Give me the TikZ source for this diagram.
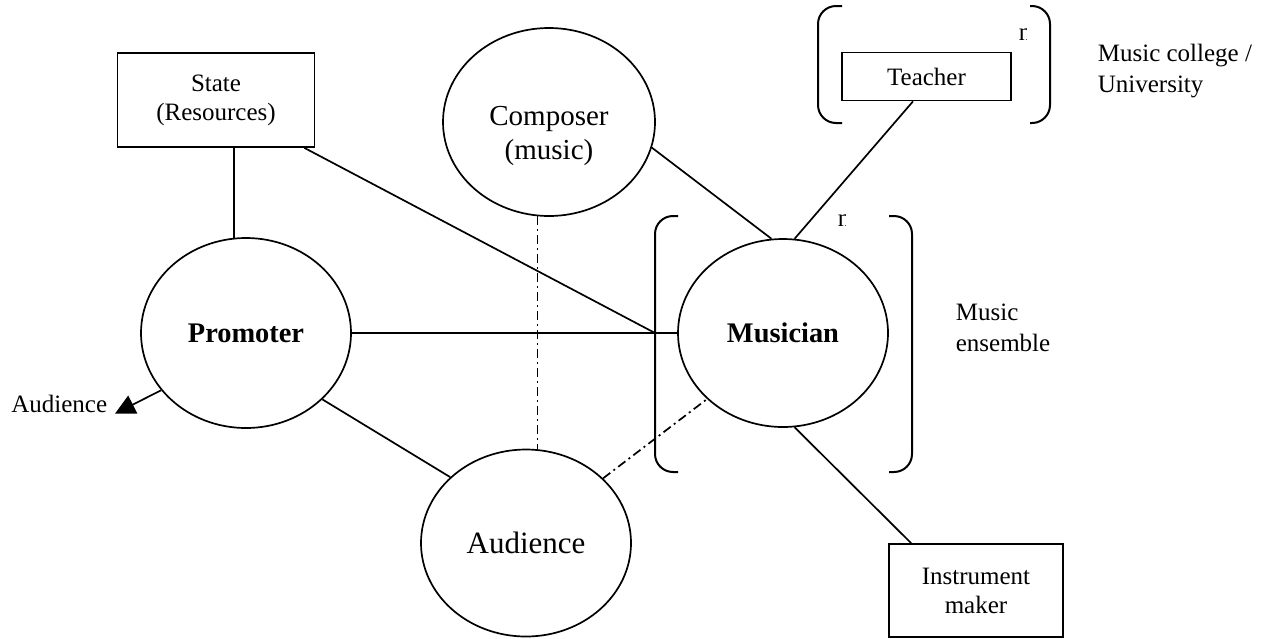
\documentclass[tikz,border=0pt]{standalone}
\usepackage{fontspec}
\setmainfont{Liberation Serif}
\usetikzlibrary{shapes.geometric, arrows.meta}

\begin{document}
\begin{tikzpicture}[x=0.5pt, y=-0.5pt, line width=0.85pt,
  bubble/.style={draw, ellipse, inner sep=0pt},
  plainbox/.style={draw, rectangle, inner sep=0pt, align=center, font=\fontsize{12.5}{14.5}\selectfont},
  smalltxt/.style={inner sep=0pt, font=\fontsize{12.5}{15.5}\selectfont},
  dashdot/.style={dash pattern=on 4.5pt off 2pt on 1pt off 2pt},
  bracketline/.style={line width=1pt, rounded corners=9pt}]
\useasboundingbox (0,0) rectangle (1267,638);

\node[bubble, minimum width=106pt, minimum height=94pt] (composer) at (549,122) {};
\node[smalltxt, align=center, font=\fontsize{14.5}{17}\selectfont] (composertxt) at ([yshift=-7pt]composer.center) {Composer\\(music)};
\node[bubble, minimum width=105pt, minimum height=95pt, font=\bfseries\fontsize{14.2}{17}\selectfont] (promoter) at (246,333) {Promoter};
\node[bubble, minimum width=105pt, minimum height=94pt, font=\bfseries\fontsize{14.2}{17}\selectfont] (musician) at (783,333) {Musician};
\node[bubble, minimum width=105pt, minimum height=93.5pt, font=\fontsize{15.5}{18}\selectfont] (audience) at (526,543) {Audience};

\node[plainbox, minimum width=98.5pt, minimum height=47pt] (state) at (216,100) {State\\(Resources)};
\node[plainbox, minimum width=84.5pt, minimum height=24pt] (teacher) at (926.5,76.5) {Teacher};
\node[plainbox, minimum width=87pt, minimum height=46.5pt] (maker) at (976,590.5) {Instrument\\maker};

\node[smalltxt, inner xsep=3.5pt, anchor=east] (audout) at (115,404) {Audience};
\node[smalltxt, align=left, anchor=west] (college) at (1097,71) {Music college /\\University};
\node[smalltxt, align=left, anchor=west] (ensemble) at (955,328) {Music\\ensemble};

%clipped n marks
\begin{scope}
\clip (830,205) rectangle (845,235);
\node[smalltxt] (ensn) at (844,221) {n};
\end{scope}
\begin{scope}
\clip (1010,20) rectangle (1026,50);
\node[smalltxt] (collegen) at (1025,35) {n};
\end{scope}

%brackets
\draw[bracketline] (678,216) -- (655,216) -- (655,472) -- (678,472);
\draw[bracketline] (889,216) -- (912,216) -- (912,472) -- (889,472);
\draw[bracketline] (842,6) -- (818,6) -- (818,123) -- (842,123);
\draw[bracketline] (1030,6) -- (1050,6) -- (1050,123) -- (1030,123);
\coordinate (ensjoin) at (655,333);

\draw (state.south -| promoter.97) -- (promoter.97);
\draw ([xshift=-5.5pt]state.south east) -- (ensjoin);
\draw (promoter.east) -- (musician.west);
\draw (composer.-14) -- (musician.97);
\draw ([xshift=-6.75pt]teacher.south) -- (musician.83);
\draw (musician.-83) -- ([xshift=11.5pt]maker.north west);
\draw[dashdot] (composer.-97) -- (composer.-97 |- audience.north);
\draw (promoter.-41) -- (audience.139);
\draw[dashdot] (audience.40) -- (musician.-139);
\draw[-{Triangle[length=10pt,width=10pt]}] (promoter.-146) -- (audout.south east);

\end{tikzpicture}
\end{document}
